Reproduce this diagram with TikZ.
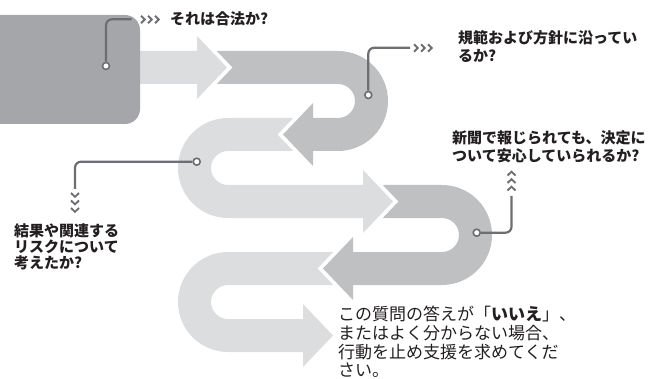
\documentclass[tikz,border=0pt]{standalone}
\usepackage{fontspec}
\newfontfamily\jp{Noto Sans CJK JP}
\definecolor{lightband}{HTML}{DCDDDF}
\definecolor{midband}{HTML}{BFC0C2}
\definecolor{darkbox}{HTML}{A5A6A9}
\definecolor{linegray}{HTML}{6D6E71}
\definecolor{ink}{HTML}{231F20}
\tikzset{
  lightfill/.style={fill=lightband},
  midfill/.style={fill=midband},
  conn/.style={draw=linegray, line width=2.2, rounded corners=6},
  dot/.style={circle, draw=linegray, fill=white, line width=1.6, inner sep=0, minimum size=7},
  chev/.style={draw=linegray, line width=1.9},
  qtext/.style={inner sep=0, anchor=base west, text=ink, font=\jp\bfseries\fontsize{15}{17}\selectfont},
  ntext/.style={inner sep=0, anchor=base west, text=ink, font=\jp\fontsize{17}{20}\selectfont}
}
\begin{document}
\begin{tikzpicture}[x=1pt,y=-1pt]
\useasboundingbox (0,0) rectangle (668,379);
% band 1
\fill[lightfill] (120,51) -- (197,51) -- (197,36) -- (227,67.5) -- (197,99) -- (197,84) -- (120,84) -- cycle;
% band 2
\fill[midfill] (216.8,51) -- (338,51) arc[start angle=-90,end angle=90,radius=50]
  -- (313,151) -- (313,166) -- (283,134.5) -- (313,103) -- (313,118) -- (338,118)
  arc[start angle=90,end angle=-90,radius=17] -- (216.8,84) -- (232.5,67.5) -- cycle;
% band 3
\fill[lightfill] (293.2,118) -- (228,118) arc[start angle=-90,end angle=-270,radius=50]
  -- (363,218) -- (363,233) -- (393,201.5) -- (363,170) -- (363,185) -- (228,185)
  arc[start angle=90,end angle=270,radius=17] -- (293.2,151) -- (277.5,134.5) -- cycle;
% band 4
\fill[midfill] (382.8,185) -- (442,185) arc[start angle=-90,end angle=90,radius=50]
  -- (353,285) -- (353,300) -- (323,268.5) -- (353,237) -- (353,252) -- (442,252)
  arc[start angle=90,end angle=-90,radius=17] -- (382.8,218) -- (398.5,201.5) -- cycle;
% band 5
\fill[lightfill] (333.2,252) -- (228,252) arc[start angle=-90,end angle=-270,radius=50]
  -- (303,352) -- (303,367) -- (333,335.5) -- (303,304) -- (303,319) -- (228,319)
  arc[start angle=90,end angle=270,radius=17] -- (333.2,285) -- (317.5,268.5) -- cycle;
% start box
\fill[darkbox, rounded corners=15] (-20,15) rectangle (140,124);
% connectors
\node[dot] (c1) at (106,66) {};
\node[dot] (c2) at (368.3,95) {};
\node[dot] (c3) at (196.7,161.7) {};
\node[dot] (c4) at (476.7,232.7) {};
\coordinate (e1) at (131.7,19.3);
\coordinate (e2) at (410,47.7);
\coordinate (e3) at (75,189);
\coordinate (e4) at (511.5,196);
\draw[conn] (c1) |- (e1);
\draw[conn] (c2) |- (e2);
\draw[conn] (c3) -| (e3);
\draw[conn] (c4) -| (e4);
% chevrons
\foreach \x in {141,148,155} \draw[chev] (\x,15.8) -- (\x+3.8,19.5) -- (\x,23.2);
\foreach \x in {414,421,428} \draw[chev] (\x,44.3) -- (\x+3.8,48) -- (\x,51.7);
\foreach \y in {193,200.5,208} \draw[chev] (71,\y) -- (75,\y+3.8) -- (79,\y);
\foreach \y in {175.5,183,190.5} \draw[chev] (507.5,\y) -- (511.5,\y-3.8) -- (515.5,\y);
% texts
\node[qtext] (t1) at (170,25) {それは合法か?};
\node[qtext] (t2a) at (458,43.2) {規範および方針に沿ってい};
\node[qtext] (t2b) at (458,61.5) {るか?};
\node[qtext] (t3a) at (452,144) {新聞で報じられても、決定に};
\node[qtext] (t3b) at (452,161.5) {ついて安心していられるか?};
\node[qtext] (t4a) at (14,236.5) {結果や関連する};
\node[qtext] (t4b) at (14,252.5) {リスクについて};
\node[qtext] (t4c) at (14,268.5) {考えたか?};
\node[ntext] (t5a) at (338,320.5) {この質問の答えが「{\bfseries いいえ}」、};
\node[ntext] (t5b) at (338,339.5) {またはよく分からない場合、};
\node[ntext] (t5c) at (338,358.5) {行動を止め支援を求めてくだ};
\node[ntext] (t5d) at (338,376.5) {さい。};
\end{tikzpicture}
\end{document}
